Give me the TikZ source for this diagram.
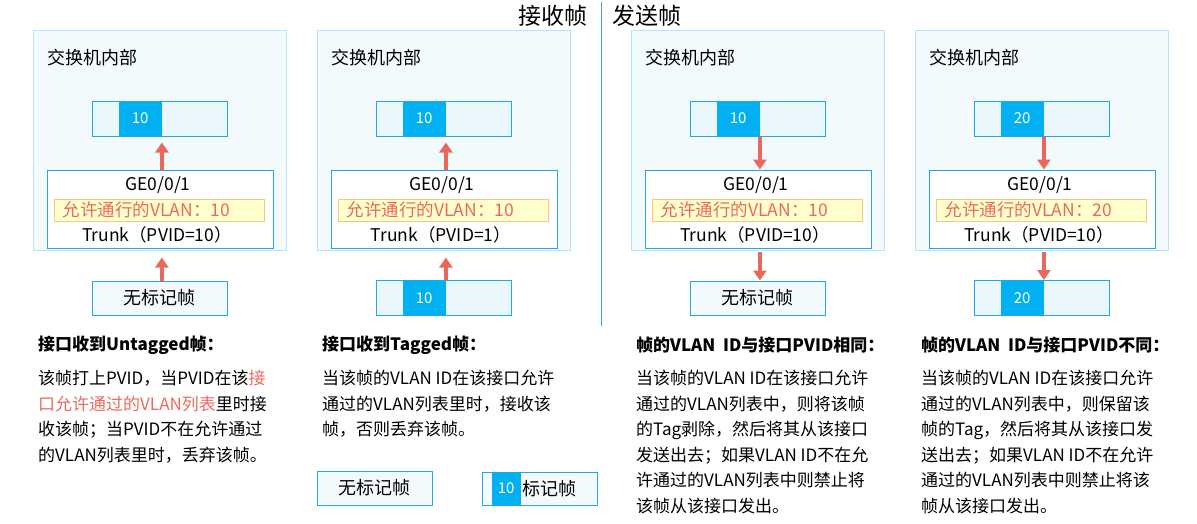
\documentclass[tikz,border=0pt]{standalone}
\usepackage{fontspec}
\setmainfont{Noto Sans CJK SC}
\usetikzlibrary{arrows.meta}
\definecolor{panelfill}{HTML}{F3FAFD}
\definecolor{panelline}{HTML}{B9E3F6}
\definecolor{framefill}{HTML}{E9F6FC}
\definecolor{boxline}{HTML}{22A7E4}
\definecolor{hwblue}{HTML}{00B0F0}
\definecolor{arrred}{HTML}{E8695C}
\definecolor{txtred}{HTML}{EA6B5E}
\definecolor{hlfill}{HTML}{FFFFCC}
\definecolor{hlline}{HTML}{F9C77F}
\definecolor{divline}{HTML}{3BA3DC}
\tikzset{
  panel/.style={draw=panelline, fill=panelfill, line width=1pt, minimum width=253pt, minimum height=220pt, inner sep=0pt},
  frm/.style={draw=boxline, fill=framefill, line width=1pt, minimum width=135pt, minimum height=35pt, inner sep=0pt},
  tagseg/.style={fill=hwblue, text=white, minimum width=43pt, minimum height=34pt, inner sep=0pt, anchor=west, font=\fontsize{15}{18}\selectfont},
  port/.style={draw=boxline, fill=white, line width=1pt, minimum width=226pt, minimum height=78pt, inner sep=0pt},
  vlanbar/.style={draw=hlline, fill=hlfill, line width=1pt, minimum width=210pt, minimum height=22pt, inner sep=0pt},
  ubox/.style={draw=boxline, fill=panelfill, line width=1pt, minimum width=135pt, minimum height=34pt, inner sep=0pt, font=\fontsize{18}{21}\selectfont},
  lbl/.style={font=\fontsize{17.5}{20}\selectfont, inner sep=0pt},
  arr/.style={-{Triangle[width=13pt,length=10pt]}, line width=3.5pt, draw=arrred},
  head/.style={font=\bfseries\fontsize{17}{20}\selectfont, anchor=west, inner sep=0pt},
  desc/.style={font=\fontsize{17}{25.5}\selectfont, align=left, anchor=north west, inner sep=0pt},
  divider/.style={draw=divline, line width=0.8pt},
}
\begin{document}
\begin{tikzpicture}[x=1pt,y=-1pt]
\useasboundingbox (0,0) rectangle (1197,523);
\node[font=\fontsize{23}{26}\selectfont, anchor=east, inner sep=0pt] (rxtitle) at (588,16) {接收帧};
\node[font=\fontsize{23}{26}\selectfont, anchor=west, inner sep=0pt] (txtitle) at (612,16) {发送帧};
\draw[divider] (601,2) -- (601,326);
% panel 1 -- untagged frame received
\node[panel] (p1) at (159.5,140) {};
\node[lbl, anchor=west, font=\fontsize{18}{20}\selectfont] at (47,58) {交换机内部};
\node[frm] (f1) at (159.5,118.5) {};
\node[tagseg] (t1) at ([xshift=27pt]f1.west) {10};
\node[port] (i1) at (160,209) {};
\node[lbl] at (158,185) {GE0/0/1};
\node[vlanbar] (v1) at (159,210) {};
\node[lbl, text=txtred, anchor=west] at ([xshift=9pt]v1.west) {允许通行的VLAN：10};
\node[lbl] at (157,235) {Trunk（PVID=10）};
\node[ubox] (b1) at (159.5,298) {无标记帧};
\draw[arr, shorten >=6pt] (i1.north -| t1.east) -- (f1.south -| t1.east);
\draw[arr, shorten >=9pt] (b1.north -| t1.east) -- (i1.south -| t1.east);
% panel 2 -- tagged frame received
\node[panel] (p2) at (443.5,140) {};
\node[lbl, anchor=west, font=\fontsize{18}{20}\selectfont] at (331,58) {交换机内部};
\node[frm] (f2) at (443.5,118.5) {};
\node[tagseg] (t2) at ([xshift=27pt]f2.west) {10};
\node[port] (i2) at (444,209) {};
\node[lbl] at (442,185) {GE0/0/1};
\node[vlanbar] (v2) at (443,210) {};
\node[lbl, text=txtred, anchor=west] at ([xshift=9pt]v2.west) {允许通行的VLAN：10};
\node[lbl] at (441,235) {Trunk（PVID=1）};
\node[frm] (b2) at (443.5,298) {};
\node[tagseg] (tb2) at ([xshift=27pt]b2.west) {10};
\draw[arr, shorten >=6pt] (i2.north -| t2.east) -- (f2.south -| t2.east);
\draw[arr, shorten >=9pt] (b2.north -| t2.east) -- (i2.south -| t2.east);
% panel 3 -- sent, VLAN = PVID
\node[panel] (p3) at (757.5,140) {};
\node[lbl, anchor=west, font=\fontsize{18}{20}\selectfont] at (645,58) {交换机内部};
\node[frm] (f3) at (757.5,118.5) {};
\node[tagseg] (t3) at ([xshift=27pt]f3.west) {10};
\node[port] (i3) at (758,209) {};
\node[lbl] at (756,185) {GE0/0/1};
\node[vlanbar] (v3) at (757,210) {};
\node[lbl, text=txtred, anchor=west] at ([xshift=9pt]v3.west) {允许通行的VLAN：10};
\node[lbl] at (755,235) {Trunk（PVID=10）};
\node[ubox] (b3) at (757.5,298) {无标记帧};
\draw[arr] (f3.south -| t3.east) -- (i3.north -| t3.east);
\draw[arr, shorten <=3pt] (i3.south -| t3.east) -- (b3.north -| t3.east);
% panel 4 -- sent, VLAN /= PVID
\node[panel] (p4) at (1041.5,140) {};
\node[lbl, anchor=west, font=\fontsize{18}{20}\selectfont] at (929,58) {交换机内部};
\node[frm] (f4) at (1041.5,118.5) {};
\node[tagseg] (t4) at ([xshift=27pt]f4.west) {20};
\node[port] (i4) at (1042,209) {};
\node[lbl] at (1040,185) {GE0/0/1};
\node[vlanbar] (v4) at (1041,210) {};
\node[lbl, text=txtred, anchor=west] at ([xshift=9pt]v4.west) {允许通行的VLAN：20};
\node[lbl] at (1039,235) {Trunk（PVID=10）};
\node[frm] (b4) at (1041.5,298) {};
\node[tagseg] (tb4) at ([xshift=27pt]b4.west) {20};
\draw[arr] (f4.south -| t4.east) -- (i4.north -| t4.east);
\draw[arr, shorten <=3pt] (i4.south -| t4.east) -- (b4.north -| t4.east);
% descriptions
\node[head] (h1) at (38,345) {接口收到Untagged帧：};
\node[desc] (d1) at (38,370) {该帧打上PVID，当PVID在该\textcolor{txtred}{接}\\\textcolor{txtred}{口允许通过的VLAN列表}里时接\\收该帧；当PVID不在允许通过\\的VLAN列表里时，丢弃该帧。};
\node[head] (h2) at (322,345) {接口收到Tagged帧：};
\node[desc] (d2) at (322,370) {当该帧的VLAN ID在该接口允许\\通过的VLAN列表里时，接收该\\帧，否则丢弃该帧。};
\node[head] (h3) at (636,345) {帧的VLAN\ \ ID与接口PVID相同：};
\node[desc] (d3) at (636,370) {当该帧的VLAN ID在该接口允许\\通过的VLAN列表中，则将该帧\\的Tag剥除，然后将其从该接口\\发送出去；如果VLAN ID不在允\\许通过的VLAN列表中则禁止将\\该帧从该接口发出。};
\node[head] (h4) at (921,345) {帧的VLAN\ \ ID与接口PVID不同：};
\node[desc] (d4) at (921,370) {当该帧的VLAN ID在该接口允许\\通过的VLAN列表中，则保留该\\帧的Tag，然后将其从该接口发\\送出去；如果VLAN ID不在允许\\通过的VLAN列表中则禁止将该\\帧从该接口发出。};
% legend
\node[ubox, minimum width=115pt] (lg1) at (374.5,488) {无标记帧};
\node[ubox, minimum width=115pt, minimum height=33pt] (lg2) at (539.5,488.5) {};
\node[tagseg, minimum width=29pt, minimum height=32pt] (lgt) at ([xshift=10pt]lg2.west) {10};
\node[lbl, anchor=west, font=\fontsize{18}{20}\selectfont] at ([xshift=1pt]lgt.east) {标记帧};
\end{tikzpicture}
\end{document}
